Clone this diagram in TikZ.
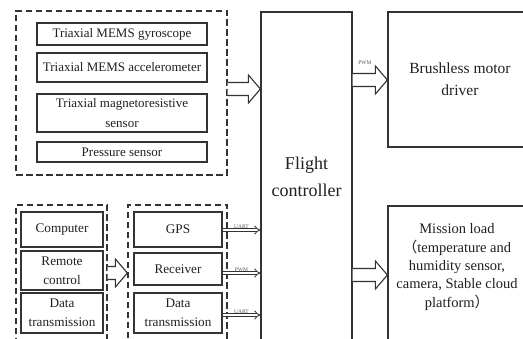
\documentclass[tikz,border=0pt]{standalone}
\usepackage{fontspec}
\setmainfont{Liberation Serif}
\newfontfamily\cjk{Noto Sans CJK SC}
\usepackage{tikz}
\usetikzlibrary{calc,arrows.meta}
\definecolor{ink}{HTML}{202020}
\definecolor{line}{HTML}{333333}
\definecolor{muted}{HTML}{5A5A5A}
\tikzset{
  box/.style={draw=line, line width=1.2pt, fill=white, text=ink, align=center, inner sep=1pt},
  grp/.style={draw=line, dashed, dash pattern=on 6.5pt off 3.5pt, line width=1.3pt},
  blk/.style={draw=line, line width=1.1pt, fill=white},
  sig/.style={draw=line, double=white, double distance=2.2pt, line width=0.85pt, -{Implies}},
  lab/.style={text=muted, font=\fontsize{5.5}{6}\selectfont, inner sep=1pt},
  sens/.style={font=\fontsize{13}{19.5}\selectfont},
  radio/.style={font=\fontsize{13.2}{19}\selectfont}
}
\newcommand{\BlockArrow}[2]{%
  \draw[blk] ($(#1)+(0,-6.5)$) -- ($(#2)+(-12,-6.5)$) -- ($(#2)+(-12,-14)$) -- (#2)
    -- ($(#2)+(-12,14)$) -- ($(#2)+(-12,6.5)$) -- ($(#1)+(0,6.5)$);
}
\begin{document}
\begin{tikzpicture}[x=1pt, y=-1pt]
  \useasboundingbox (0,0) rectangle (523,339);
  \fill[white] (0,0) rectangle (523,339);
  \clip (0,0) rectangle (523,339);

  % sensors
  \node[grp, minimum width=211pt, minimum height=164pt] (sensgrp) at (121.5,93) {};
  \node[box, sens, minimum width=170pt, minimum height=22pt] (gyro) at (122,34) {Triaxial MEMS gyroscope};
  \node[box, sens, minimum width=170pt, minimum height=29pt] (accel) at (122,67.5) {Triaxial MEMS accelerometer};
  \node[box, sens, minimum width=170pt, minimum height=38pt] (mag) at (122,113) {Triaxial magnetoresistive\\sensor};
  \node[box, sens, minimum width=170pt, minimum height=20pt] (press) at (122,152) {Pressure sensor};

  % controller and outputs
  \node[box, font=\fontsize{18}{27}\selectfont, minimum width=91pt, minimum height=329pt] (fc) at (306.5,176.5) {Flight\\controller};
  \node[box, font=\fontsize{15.5}{22}\selectfont, minimum width=144pt, minimum height=135pt] (motor) at (460,79.5) {Brushless motor\\driver};
  \node[box, minimum width=144pt, minimum height=144pt] (mission) at (460,278) {};
  \node[text=ink, align=center, font=\fontsize{14.5}{18.4}\selectfont] (missiontxt) at (457,267)
    {Mission load\\{\cjk （}temperature and\\humidity sensor,\\camera, Stable cloud\\platform{\cjk ）}};

  % ground side
  \node[grp, minimum width=91pt, minimum height=145pt] (inpgrp) at (61.5,277.5) {};
  \node[box, radio, minimum width=82pt, minimum height=35pt] (comp) at (62,229.5) {Computer};
  \node[box, radio, minimum width=82pt, minimum height=39pt] (remote) at (62,270.5) {Remote\\control};
  \node[box, radio, minimum width=82pt, minimum height=40pt] (dtxa) at (62,313) {Data\\transmission};

  % onboard radios
  \node[grp, minimum width=99pt, minimum height=145pt] (rxgrp) at (177.5,277.5) {};
  \node[box, radio, minimum width=88pt, minimum height=35pt] (gps) at (178,229.5) {GPS};
  \node[box, radio, minimum width=88pt, minimum height=32pt] (recv) at (178,269) {Receiver};
  \node[box, radio, minimum width=88pt, minimum height=40pt] (dtxb) at (178,313) {Data\\transmission};

  % block arrows
  \coordinate (s1) at (sensgrp.east |- 0,89);
  \coordinate (t1) at (fc.west |- s1);
  \BlockArrow{s1}{t1}
  \coordinate (s2) at (fc.east |- 0,80);
  \coordinate (t2) at (motor.west |- s2);
  \BlockArrow{s2}{t2}
  \coordinate (s3) at (fc.east |- 0,275);
  \coordinate (t3) at (mission.west |- s3);
  \BlockArrow{s3}{t3}
  \coordinate (s4) at (inpgrp.east |- 0,273);
  \coordinate (t4) at (rxgrp.west |- s4);
  \BlockArrow{s4}{t4}
  \node[lab] (pwmtop) at (365,63) {PWM};

  % signal lines
  \coordinate (g1) at (gps.east |- 0,230);
  \draw[sig] (g1) -- (g1 -| fc.west) node[lab, midway, above] (uarta) {UART};
  \coordinate (g2) at (recv.east |- 0,273);
  \draw[sig] (g2) -- (g2 -| fc.west) node[lab, midway, above] (pwmrx) {PWM};
  \coordinate (g3) at (dtxb.east |- 0,315);
  \draw[sig] (g3) -- (g3 -| fc.west) node[lab, midway, above] (uartb) {UART};
\end{tikzpicture}
\end{document}
